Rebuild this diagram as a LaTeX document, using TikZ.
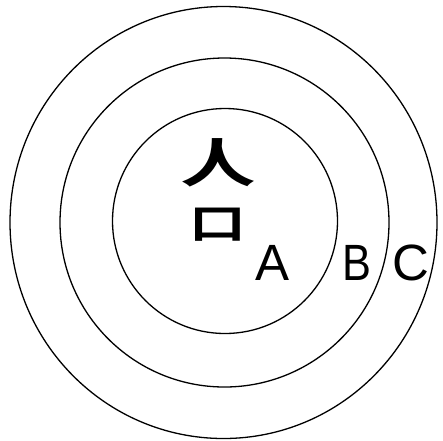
\documentclass[tikz,border=0pt]{standalone}
\usepackage{fontspec}
\setmainfont{Liberation Sans}
\newfontfamily\cjk{Noto Sans CJK SC Bold}
\begin{document}
\begin{tikzpicture}[x=1pt,y=-1pt,
  ring/.style={draw=black,line width=1.3pt},
  lbl/.style={inner sep=0pt,anchor=base,font=\fontsize{51}{51}\selectfont},
  glyph/.style={inner sep=0pt}]
\useasboundingbox[fill=white] (0,0) rectangle (443,440);
\draw[ring] (223.5,222.5) circle [x radius=213.5, y radius=216];
\draw[ring] (224.5,222.5) circle [radius=164.5];
\draw[ring] (225,221) circle [radius=112.5];
\node[glyph,xscale=1.05,yscale=0.72] (ren) at (218,162.5) {\cjk\fontsize{72}{72}\selectfont 人};
\node[glyph,xscale=1.05,yscale=0.75] (kou) at (217.5,224.5) {\cjk\fontsize{54}{54}\selectfont 口};
\node[lbl] (A) at (273,280) {A};
\node[lbl,xscale=0.85] (B) at (356.5,280) {B};
\node[lbl] (C) at (411,280) {C};
\end{tikzpicture}
\end{document}
